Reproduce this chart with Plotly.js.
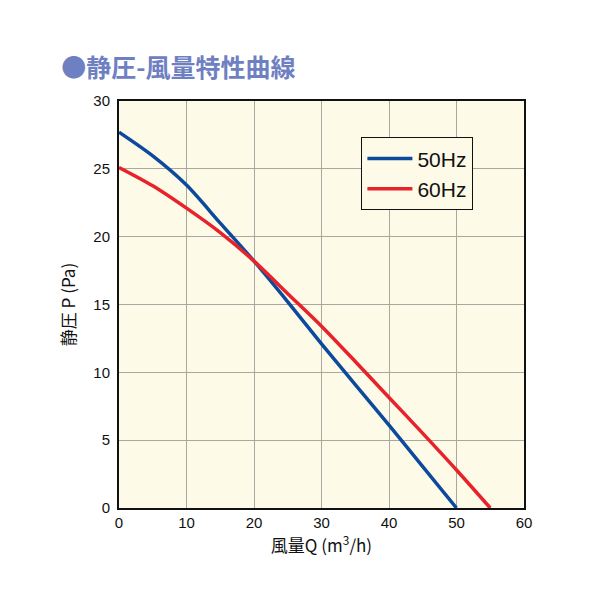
<!DOCTYPE html>
<html>
<head>
<meta charset="utf-8">
<script src="https://cdn.plot.ly/plotly-3.0.1.min.js"></script>
<style>html,body{margin:0;padding:0;background:#fff;}#chart{width:600px;height:600px;}</style>
</head>
<body>
<div id="chart"></div>
<script>
const flow50 = [0, 5, 10, 15, 20, 25, 30, 35, 40, 45, 50];
const pressure50 = [27.7, 25.95, 23.8, 21.0, 18.2, 15.2, 12.1, 9.1, 6.1, 3.05, 0];
const flow60 = [0, 5, 10, 15, 20, 25, 30, 35, 40, 45, 50, 55];
const pressure60 = [25.1, 23.75, 22.1, 20.3, 18.2, 15.8, 13.4, 10.8, 8.15, 5.5, 2.8, 0];
const seriesNames = ['50Hz', '60Hz'];
const xTicks = [0, 10, 20, 30, 40, 50, 60];
const yTicks = [0, 5, 10, 15, 20, 25, 30];

const traces = [
  {x: flow50, y: pressure50, name: seriesNames[0], mode: 'lines', line: {color: '#0d4a9c', width: 3.5, shape: 'spline', smoothing: 0.8}},
  {x: flow60, y: pressure60, name: seriesNames[1], mode: 'lines', line: {color: '#e8222b', width: 3.5, shape: 'spline', smoothing: 0.8}}
];

const layout = {
  width: 600, height: 600,
  margin: {l: 119, r: 76, t: 101, b: 92},
  paper_bgcolor: '#ffffff',
  plot_bgcolor: '#fdfbe8',
  font: {family: 'Liberation Sans, Arial, sans-serif', color: '#111'},
  title: {
    text: '●静圧-風量特性曲線',
    font: {family: 'Noto Sans CJK JP', size: 25, color: '#6f80c2', weight: 'bold'},
    x: 0.102, xref: 'container', xanchor: 'left',
    y: 0.887, yref: 'container', yanchor: 'middle'
  },
  xaxis: {
    range: [0, 60], tickvals: xTicks, ticktext: xTicks.map(String),
    showgrid: true, gridcolor: '#a8a8a0', gridwidth: 1,
    zeroline: false, showline: true, linecolor: '#111', linewidth: 2, mirror: true,
    ticks: '', tickfont: {size: 15, color: '#111'},
    title: {text: '風量Q (m<sup>3</sup>/h)', font: {family: 'Noto Sans CJK JP', size: 17, color: '#111'}, standoff: 10}
  },
  yaxis: {
    range: [0, 30], tickvals: yTicks, ticktext: yTicks.map(String),
    showgrid: true, gridcolor: '#a8a8a0', gridwidth: 1,
    zeroline: false, showline: true, linecolor: '#111', linewidth: 2, mirror: true,
    ticks: '', tickfont: {size: 15, color: '#111'}, ticklabelstandoff: 4,
    title: {text: '静圧 P (Pa)', font: {family: 'Noto Sans CJK JP', size: 17, color: '#111'}, standoff: 13}
  },
  legend: {
    x: 0.598, y: 0.911, xanchor: 'left', yanchor: 'top',
    bgcolor: '#fdfbe8', bordercolor: '#111', borderwidth: 1.2,
    font: {size: 21, color: '#111', family: 'Liberation Sans, Arial, sans-serif'},
    tracegroupgap: 0, itemwidth: 45
  },
  showlegend: true
};

Plotly.newPlot('chart', traces, layout, {displayModeBar: false, staticPlot: true});
</script>
</body>
</html>
